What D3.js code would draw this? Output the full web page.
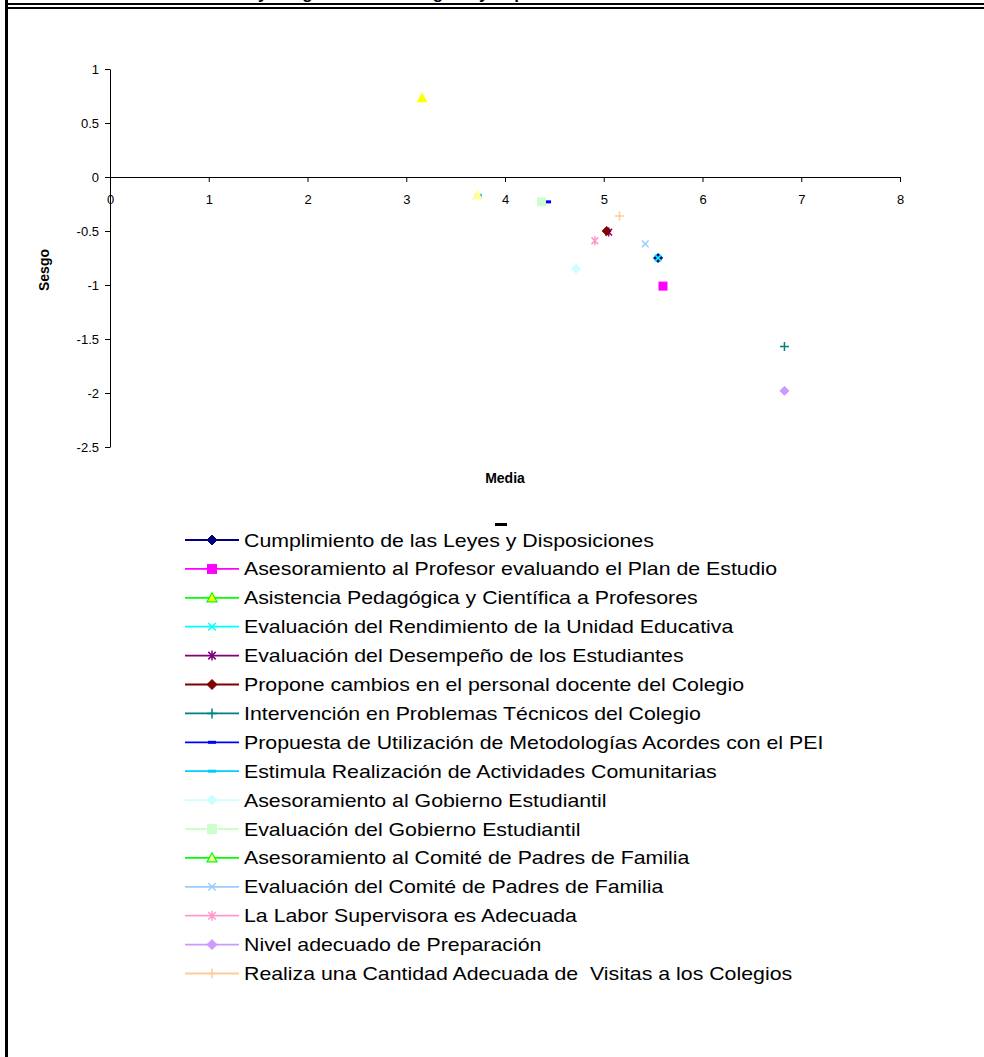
<!DOCTYPE html>
<html>
<head>
<meta charset="utf-8">
<script src="https://cdn.jsdelivr.net/npm/d3@7"></script>
<style>
  body { margin: 0; background: #fff; }
  svg { display: block; }
</style>
</head>
<body>
<svg width="984" height="1057"></svg>
<script>
// data
var seriesNames = [
  "Cumplimiento de las Leyes y Disposiciones",
  "Asesoramiento al Profesor evaluando el Plan de Estudio",
  "Asistencia Pedagógica y Científica a Profesores",
  "Evaluación del Rendimiento de la Unidad Educativa",
  "Evaluación del Desempeño de los Estudiantes",
  "Propone cambios en el personal docente del Colegio",
  "Intervención en Problemas Técnicos del Colegio",
  "Propuesta de Utilización de Metodologías Acordes con el PEI",
  "Estimula Realización de Actividades Comunitarias",
  "Asesoramiento al Gobierno Estudiantil",
  "Evaluación del Gobierno Estudiantil",
  "Asesoramiento al Comité de Padres de Familia",
  "Evaluación del Comité de Padres de Familia",
  "La Labor Supervisora es Adecuada",
  "Nivel adecuado de Preparación",
  "Realiza una Cantidad Adecuada de  Visitas a los Colegios"
];
var media = [5.55, 5.60, 3.16, 5.55, 5.05, 5.03, 6.83, 4.43, 3.73, 4.72, 4.37, 3.72, 5.42, 4.91, 6.83, 5.16];
var sesgo = [-0.75, -1.01, 0.73, -0.75, -0.51, -0.50, -1.57, -0.23, -0.17, -0.85, -0.23, -0.17, -0.62, -0.59, -1.98, -0.36];

var xTicks = [0, 1, 2, 3, 4, 5, 6, 7, 8];
var yTicks = [-2.5, -2, -1.5, -1, -0.5, 0, 0.5, 1];

var lineColors = ["#000080", "#ff00ff", "#00ff00", "#00ffff", "#800080", "#800000", "#008080", "#0000ff",
                  "#00ccff", "#ccffff", "#ccffcc", "#00ff00", "#99ccff", "#ff99cc", "#cc99ff", "#ffcc99"];
var markColors = ["#000080", "#ff00ff", "#ffff00", "#00ffff", "#800080", "#800000", "#008080", "#0000ff",
                  "#00ccff", "#ccffff", "#ccffcc", "#ffff99", "#99ccff", "#ff99cc", "#cc99ff", "#ffcc99"];
var shapes = ["diamond", "square", "triangle", "x", "star", "diamond", "plus", "dash",
              "dash", "diamond", "square", "triangle", "x", "star", "diamond", "plus"];

var svg = d3.select("svg");
var font = "'Liberation Sans', Arial, sans-serif";
var narrow = "'Liberation Sans Narrow', 'Arial Narrow', 'Liberation Sans', Arial, sans-serif";

// frame of the page it was cut from (title runs off the top)
svg.append("text")
  .attr("x", 205).attr("y", -1)
  .attr("font-family", font).attr("font-weight", "bold").attr("font-size", 17)
  .text("Media y Sesgo de cada Categoría y Aspecto");
svg.append("rect").attr("x", 5).attr("y", 0).attr("width", 3).attr("height", 1057).attr("fill", "#000");
svg.append("rect").attr("x", 8).attr("y", 3).attr("width", 976).attr("height", 2).attr("fill", "#000");
svg.append("rect").attr("x", 8).attr("y", 7).attr("width", 976).attr("height", 2).attr("fill", "#000");

var x = d3.scaleLinear().domain([0, 8]).range([110, 900]);
var y = d3.scaleLinear().domain([-2.5, 1]).range([447, 69]);

var xAxis = svg.append("g")
  .attr("transform", "translate(0," + y(0) + ")")
  .call(d3.axisBottom(x).tickValues(xTicks).tickSize(5).tickSizeOuter(0).tickPadding(13)
        .tickFormat(function(d) { return String(d); }));

var yAxis = svg.append("g")
  .attr("transform", "translate(" + x(0) + ",0)")
  .call(d3.axisLeft(y).tickValues(yTicks).tickSize(5).tickSizeOuter(0).tickPadding(6)
        .tickFormat(function(d) { return String(d); }));

[xAxis, yAxis].forEach(function(a) {
  a.selectAll("path, line").attr("stroke", "#000").attr("stroke-width", 1);
  a.selectAll("text").attr("font-family", font).attr("font-size", 13).attr("fill", "#000");
});

svg.append("text")
  .attr("transform", "translate(49," + 270 + ") rotate(-90)")
  .attr("text-anchor", "middle")
  .attr("font-family", narrow).attr("font-weight", "bold").attr("font-size", 14)
  .text("Sesgo");

svg.append("text")
  .attr("x", 505).attr("y", 483)
  .attr("text-anchor", "middle")
  .attr("font-family", narrow).attr("font-weight", "bold").attr("font-size", 14)
  .text("Media");

function drawMarker(g, shape, stroke, fill, s) {
  if (shape == "diamond") {
    g.append("path").attr("d", "M0," + (-s) + "L" + s + ",0L0," + s + "L" + (-s) + ",0Z")
      .attr("fill", fill).attr("stroke", stroke);
  } else if (shape == "square") {
    g.append("rect").attr("x", -s + 0.5).attr("y", -s + 0.5).attr("width", 2 * s - 1).attr("height", 2 * s - 1)
      .attr("fill", fill).attr("stroke", stroke);
  } else if (shape == "triangle") {
    g.append("path").attr("d", "M0," + (-s) + "L" + s + "," + (s - 1) + "L" + (-s) + "," + (s - 1) + "Z")
      .attr("fill", fill).attr("stroke", stroke).attr("stroke-width", 1.2);
  } else if (shape == "x" || shape == "star") {
    var k = s * 0.75;
    g.append("path").attr("d", "M" + (-k) + "," + (-k) + "L" + k + "," + k + "M" + (-k) + "," + k + "L" + k + "," + (-k)
        + (shape == "star" ? "M0," + (-s) + "L0," + s : ""))
      .attr("stroke", stroke).attr("stroke-width", 1.5).attr("fill", "none");
  } else if (shape == "plus") {
    g.append("path").attr("d", "M" + (-s) + ",0L" + s + ",0M0," + (-s) + "L0," + s)
      .attr("stroke", stroke).attr("stroke-width", 1.5).attr("fill", "none");
  } else if (shape == "dash") {
    g.append("rect").attr("x", -s * 0.8).attr("y", -1.5).attr("width", s * 1.6).attr("height", 3)
      .attr("fill", stroke);
  }
}

// points
var points = svg.append("g");
media.forEach(function(m, i) {
  var g = points.append("g").attr("transform", "translate(" + x(m) + "," + y(sesgo[i]) + ")");
  var c = markColors[i];
  var isFilled = shapes[i] == "diamond" || shapes[i] == "square" || shapes[i] == "triangle";
  drawMarker(g, shapes[i], c, isFilled ? c : "none", 4.5);
});

// legend
var legend = svg.append("g");
seriesNames.forEach(function(name, i) {
  var ly = 540 + i * 28.9;
  var row = legend.append("g").attr("transform", "translate(0," + ly + ")");
  row.append("line").attr("x1", 185).attr("x2", 239).attr("y1", 0).attr("y2", 0)
    .attr("stroke", lineColors[i]).attr("stroke-width", 1.8);
  var m = row.append("g").attr("transform", "translate(212,0)");
  var sh = shapes[i];
  if (sh == "triangle") drawMarker(m, sh, lineColors[i], markColors[i], 5);
  else if (sh == "diamond" || sh == "square") drawMarker(m, sh, lineColors[i], lineColors[i], 5);
  else drawMarker(m, sh, lineColors[i], "none", 5);
  row.append("text")
    .attr("transform", "translate(244,6.5) scale(1.185,1)")
    .attr("font-family", font).attr("font-size", 18).attr("fill", "#000")
    .attr("xml:space", "preserve")
    .text(name);
});

// small stray mark above the legend
svg.append("rect").attr("x", 495).attr("y", 523).attr("width", 12).attr("height", 3).attr("fill", "#000");
</script>
</body>
</html>
